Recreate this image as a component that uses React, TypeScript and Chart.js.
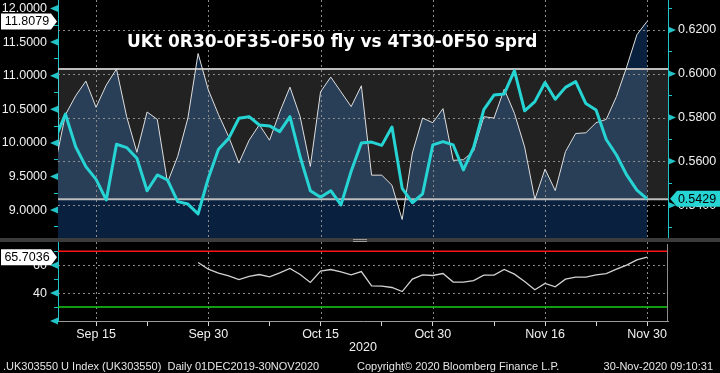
import React, { useEffect, useRef } from 'react';
import { Chart, registerables } from 'chart.js';
Chart.register(...registerables);

// ---------- data ----------
const DATES = ['Sep 9','Sep 10','Sep 11','Sep 14','Sep 15','Sep 16','Sep 17','Sep 18','Sep 21','Sep 22','Sep 23','Sep 24','Sep 25','Sep 28','Sep 29','Sep 30',
  'Oct 1','Oct 2','Oct 5','Oct 6','Oct 7','Oct 8','Oct 9','Oct 12','Oct 13','Oct 14','Oct 15','Oct 16','Oct 19','Oct 20','Oct 21','Oct 22','Oct 23','Oct 26','Oct 27','Oct 28','Oct 29','Oct 30',
  'Nov 2','Nov 3','Nov 4','Nov 5','Nov 6','Nov 9','Nov 10','Nov 11','Nov 12','Nov 13','Nov 16','Nov 17','Nov 18','Nov 19','Nov 20','Nov 23','Nov 24','Nov 25','Nov 26','Nov 27','Nov 30'];

// UKt 0R30-0F35-0F50 fly (left axis)
const FLY = [9.69,10.42,10.70,10.92,10.53,10.86,11.10,10.39,9.86,10.46,10.35,9.41,9.80,10.37,11.33,10.79,10.42,10.09,9.70,10.04,
  10.27,10.04,10.46,10.83,10.39,9.65,10.76,10.98,10.76,10.54,10.85,9.52,9.52,9.37,8.86,9.85,10.37,10.30,10.51,9.74,
  9.75,9.88,10.39,10.37,10.80,10.44,9.94,9.16,9.61,9.29,9.87,10.14,10.15,10.30,10.35,10.69,11.13,11.61,11.8079];

// 4T30-0F50 spread (right axis)
const SPRD = [0.5705,0.5816,0.5667,0.5576,0.5518,0.5424,0.5678,0.5663,0.5614,0.5466,0.5538,0.5515,0.5416,0.5405,0.536,0.5523,0.5655,0.5705,0.5797,0.5804,
  0.5766,0.5762,0.5736,0.5804,0.5621,0.5466,0.5436,0.5466,0.5401,0.5555,0.5684,0.5688,0.5673,0.5757,0.5477,0.5411,0.5452,0.5675,0.569,0.5675,
  0.5561,0.5664,0.5836,0.5903,0.5908,0.6014,0.5831,0.5873,0.596,0.5884,0.5938,0.5964,0.5864,0.5835,0.57,0.5629,0.5538,0.5469,0.5429];

// RSI (lower panel)
const RSI = [null,null,null,null,null,null,null,null,null,null,null,null,null,null,
  61.9,57.1,54.3,52.4,49.7,51.9,53.3,51.6,54.5,57.6,
  53.3,47.6,55.7,56.9,55.2,53.1,55.4,45.2,45.0,44.0,
  41.1,50.0,53.1,52.6,54.0,47.9,47.9,49.0,52.9,52.9,
  56.9,53.6,48.3,42.4,46.9,44.5,50.0,51.4,51.4,53.1,
  54.0,57.1,60.0,63.8,65.7036];

const LABELED_DATES = ['Sep 15','Sep 30','Oct 15','Oct 30','Nov 16','Nov 30'];
const UNLABELED_DATES = ['Sep 22','Oct 8','Oct 23','Nov 9','Nov 23'];
const FLY_RANGE_HIGH = 11.10;
const FLY_RANGE_LOW = 9.16;
const RSI_HIGH = 70;
const RSI_LOW = 30;

const TITLE = 'UKt 0R30-0F35-0F50 fly vs 4T30-0F50 sprd';
const YEAR = '2020';
const FOOTER_LEFT = '.UK303550 U Index (UK303550)  Daily 01DEC2019-30NOV2020';
const FOOTER_MID = 'Copyright\u00A9 2020 Bloomberg Finance L.P.';
const FOOTER_RIGHT = '30-Nov-2020 09:10:31';

// ---------- axis ranges ----------
const X_MIN = 0.27, X_MAX = 60.05;
const FLY_MIN = 8.585, FLY_MAX = 12.1265;
const SPRD_MIN = 0.5250, SPRD_MAX = 0.6337;
const RSI_MIN = 20, RSI_MAX = 76.6;

// ---------- styles ----------
const FONT = '"Liberation Sans", Arial, sans-serif';
const CYAN_LINE = '#27d4d4';
const CYAN_AXIS = '#22c4c8';
const TEXT = '#f0f0f0';
const GRID = '#8a8a8a';
const NAVY = 'rgb(9,33,62)';
const BAND = 'rgba(255,255,255,0.133)';
const BAND_EDGE = '#bdbdbd';

const idx = (d: string) => DATES.indexOf(d);
const LABELED_IDX = LABELED_DATES.map(idx);
const X_TICKS = [...LABELED_DATES, ...UNLABELED_DATES].map(idx).sort((a, b) => a - b);
const toPts = (arr: (number | null)[]) => arr.map((v, i) => ({ x: i, y: v }));
const last = (arr: (number | null)[]) => arr[arr.length - 1] as number;

function hLine(ctx: CanvasRenderingContext2D, x1: number, x2: number, y: number) {
  const yy = Math.round(y) + 0.5;
  ctx.beginPath(); ctx.moveTo(x1, yy); ctx.lineTo(x2, yy); ctx.stroke();
}
function vLine(ctx: CanvasRenderingContext2D, x: number, y1: number, y2: number) {
  const xx = Math.round(x) + 0.5;
  ctx.beginPath(); ctx.moveTo(xx, y1); ctx.lineTo(xx, y2); ctx.stroke();
}

function drawMarkers(chart: any, id: string, side: 'left' | 'right', isMajor: (v: number) => boolean) {
  const s = chart.scales[id];
  const ctx = chart.ctx as CanvasRenderingContext2D;
  ctx.save();
  ctx.fillStyle = CYAN_AXIS;
  s.ticks.forEach((t: any) => {
    if (!isMajor(t.value)) return;
    const y = s.getPixelForValue(t.value);
    ctx.beginPath();
    if (side === 'left') {
      const x0 = s.right;
      ctx.moveTo(x0, y - 3.5); ctx.lineTo(x0, y + 3.5); ctx.lineTo(x0 - 8, y);
    } else {
      const x0 = s.left;
      ctx.moveTo(x0, y - 3.5); ctx.lineTo(x0, y + 3.5); ctx.lineTo(x0 + 8, y);
    }
    ctx.closePath(); ctx.fill();
  });
  ctx.restore();
}

function leftBox(ctx: CanvasRenderingContext2D, text: string, y: number, bg: string) {
  ctx.save();
  ctx.fillStyle = bg;
  ctx.beginPath();
  ctx.moveTo(1, y - 8); ctx.lineTo(51, y - 8); ctx.lineTo(57, y); ctx.lineTo(51, y + 8); ctx.lineTo(1, y + 8);
  ctx.closePath(); ctx.fill();
  ctx.fillStyle = '#000';
  ctx.font = `12.5px ${FONT}`;
  ctx.textAlign = 'center'; ctx.textBaseline = 'middle';
  ctx.fillText(text, 27, y + 0.5);
  ctx.restore();
}
function rightBox(ctx: CanvasRenderingContext2D, text: string, y: number, bg: string, x0: number) {
  ctx.save();
  ctx.fillStyle = bg;
  ctx.beginPath();
  ctx.moveTo(x0 + 2, y); ctx.lineTo(x0 + 9, y - 8); ctx.lineTo(720, y - 8); ctx.lineTo(720, y + 8); ctx.lineTo(x0 + 9, y + 8);
  ctx.closePath(); ctx.fill();
  ctx.fillStyle = '#000';
  ctx.font = `12.5px ${FONT}`;
  ctx.textAlign = 'center'; ctx.textBaseline = 'middle';
  ctx.fillText(text, 697, y + 0.5);
  ctx.restore();
}

const flyMajor = (v: number) => Math.round(v * 4) % 2 === 0;
const sprdMajor = (v: number) => Math.round(v * 100) % 2 === 0;
const rsiMajor = (v: number) => Math.round(v) % 20 === 0;

const topOverlay = {
  id: 'topOverlay',
  beforeDatasetsDraw(chart: any) {
    const ctx = chart.ctx as CanvasRenderingContext2D;
    const ca = chart.chartArea;
    const { x, yL, yR } = chart.scales;
    ctx.save();
    ctx.beginPath(); ctx.rect(ca.left, ca.top, ca.right - ca.left, ca.bottom - ca.top); ctx.clip();
    const yh = yL.getPixelForValue(FLY_RANGE_HIGH);
    const yl = yL.getPixelForValue(FLY_RANGE_LOW);
    ctx.fillStyle = BAND;
    ctx.fillRect(ca.left, yh, ca.right - ca.left, yl - yh);
    ctx.strokeStyle = GRID; ctx.lineWidth = 1; ctx.setLineDash([2, 3]);
    yR.ticks.forEach((t: any) => { if (sprdMajor(t.value)) hLine(ctx, ca.left, ca.right, yR.getPixelForValue(t.value)); });
    LABELED_IDX.forEach((i) => vLine(ctx, x.getPixelForValue(i), ca.top, ca.bottom));
    ctx.setLineDash([]);
    ctx.strokeStyle = BAND_EDGE; ctx.lineWidth = 2;
    ctx.beginPath(); ctx.moveTo(ca.left, yh); ctx.lineTo(ca.right, yh); ctx.stroke();
    ctx.beginPath(); ctx.moveTo(ca.left, yl); ctx.lineTo(ca.right, yl); ctx.stroke();
    ctx.restore();
  },
  afterDraw(chart: any) {
    const ctx = chart.ctx as CanvasRenderingContext2D;
    const { yL, yR } = chart.scales;
    drawMarkers(chart, 'yL', 'left', flyMajor);
    drawMarkers(chart, 'yR', 'right', sprdMajor);
    leftBox(ctx, last(FLY).toFixed(4), yL.getPixelForValue(last(FLY)), '#ffffff');
    rightBox(ctx, last(SPRD).toFixed(4), yR.getPixelForValue(last(SPRD)), CYAN_LINE, yR.left);
    ctx.save();
    ctx.font = 'bold 17px "DejaVu Sans", Verdana, sans-serif';
    ctx.fillStyle = '#ffffff';
    ctx.textAlign = 'left'; ctx.textBaseline = 'middle';
    ctx.fillText(TITLE, 127, 43);
    ctx.restore();
  },
};

const bottomOverlay = {
  id: 'bottomOverlay',
  beforeDatasetsDraw(chart: any) {
    const ctx = chart.ctx as CanvasRenderingContext2D;
    const ca = chart.chartArea;
    const { x, y } = chart.scales;
    ctx.save();
    ctx.strokeStyle = GRID; ctx.lineWidth = 1; ctx.setLineDash([2, 3]);
    y.ticks.forEach((t: any) => { if (rsiMajor(t.value) && t.value > RSI_MIN) hLine(ctx, ca.left, ca.right, y.getPixelForValue(t.value)); });
    LABELED_IDX.forEach((i) => vLine(ctx, x.getPixelForValue(i), ca.top, ca.bottom));
    ctx.setLineDash([]);
    ctx.lineWidth = 1.5;
    ctx.strokeStyle = '#ff1414';
    ctx.beginPath(); ctx.moveTo(ca.left, y.getPixelForValue(RSI_HIGH)); ctx.lineTo(ca.right, y.getPixelForValue(RSI_HIGH)); ctx.stroke();
    ctx.strokeStyle = '#16d016';
    ctx.beginPath(); ctx.moveTo(ca.left, y.getPixelForValue(RSI_LOW)); ctx.lineTo(ca.right, y.getPixelForValue(RSI_LOW)); ctx.stroke();
    ctx.lineWidth = 1; ctx.strokeStyle = '#8c8c8c';
    vLine(ctx, ca.right - 1, ca.top + 2, ca.bottom);
    ctx.restore();
  },
  afterDraw(chart: any) {
    const ctx = chart.ctx as CanvasRenderingContext2D;
    const ca = chart.chartArea;
    const { y } = chart.scales;
    drawMarkers(chart, 'y', 'left', rsiMajor);
    leftBox(ctx, last(RSI).toFixed(4), y.getPixelForValue(last(RSI)), '#ffffff');
    ctx.save();
    ctx.font = `12.5px ${FONT}`;
    ctx.fillStyle = TEXT;
    ctx.textAlign = 'center'; ctx.textBaseline = 'middle';
    ctx.fillText(YEAR, (ca.left + ca.right) / 2, ca.bottom + 27);
    ctx.restore();
  },
};

function fixWidth(w: number) {
  return (s: any) => { s.width = w; s.paddingTop = 0; s.paddingBottom = 0; };
}

export default function App() {
  const topRef = useRef<HTMLCanvasElement>(null);
  const botRef = useRef<HTMLCanvasElement>(null);

  useEffect(() => {
    const top = new Chart(topRef.current as HTMLCanvasElement, {
      type: 'line',
      data: {
        datasets: [
          {
            label: 'fly', data: toPts(FLY) as any, yAxisID: 'yL', xAxisID: 'x',
            borderColor: '#dedede', borderWidth: 1, pointRadius: 0, tension: 0,
            fill: 'start', backgroundColor: NAVY, order: 2, clip: 0 as any,
          },
          {
            label: 'sprd', data: toPts(SPRD) as any, yAxisID: 'yR', xAxisID: 'x',
            borderColor: CYAN_LINE, borderWidth: 3, pointRadius: 0, tension: 0,
            borderJoinStyle: 'round', fill: false, order: 1, clip: 0 as any,
          },
        ],
      },
      options: {
        animation: false, responsive: false, maintainAspectRatio: false, devicePixelRatio: 1,
        layout: { padding: 0 },
        plugins: { legend: { display: false }, tooltip: { enabled: false }, filler: { drawTime: 'beforeDatasetsDraw' } as any },
        scales: {
          x: { type: 'linear', min: X_MIN, max: X_MAX, display: false },
          yL: {
            type: 'linear', position: 'left', min: FLY_MIN, max: FLY_MAX,
            afterFit: fixWidth(58),
            ticks: {
              stepSize: 0.25, includeBounds: false, autoSkip: false, color: TEXT, padding: 7,
              font: { family: FONT, size: 12.5 },
              callback: (v: any) => (flyMajor(Number(v)) ? Number(v).toFixed(4) : ''),
            },
            grid: { drawOnChartArea: false, drawTicks: true, tickLength: 4, color: CYAN_AXIS },
            border: { color: CYAN_AXIS, width: 1 },
          },
          yR: {
            type: 'linear', position: 'right', min: SPRD_MIN, max: SPRD_MAX,
            afterFit: fixWidth(52),
            ticks: {
              stepSize: 0.01, includeBounds: false, autoSkip: false, color: TEXT, padding: 6,
              font: { family: FONT, size: 12.5 },
              callback: (v: any) => (sprdMajor(Number(v)) ? Number(v).toFixed(4) : ''),
            },
            grid: { drawOnChartArea: false, drawTicks: true, tickLength: 4, color: CYAN_AXIS },
            border: { color: CYAN_AXIS, width: 1 },
          },
        },
      } as any,
      plugins: [topOverlay],
    });

    const bot = new Chart(botRef.current as HTMLCanvasElement, {
      type: 'line',
      data: {
        datasets: [
          {
            label: 'RSI', data: toPts(RSI) as any, yAxisID: 'y', xAxisID: 'x',
            borderColor: '#d2d2d2', borderWidth: 1.3, pointRadius: 0, tension: 0, fill: false, clip: 0 as any,
          },
        ],
      },
      options: {
        animation: false, responsive: false, maintainAspectRatio: false, devicePixelRatio: 1,
        layout: { padding: { left: 0, right: 52, top: 0, bottom: 0 } },
        plugins: { legend: { display: false }, tooltip: { enabled: false } },
        scales: {
          x: {
            type: 'linear', min: X_MIN, max: X_MAX,
            afterBuildTicks: (s: any) => { s.ticks = X_TICKS.map((v) => ({ value: v })); },
            afterFit: (s: any) => { s.height = 52; s.paddingLeft = 0; s.paddingRight = 0; },
            ticks: {
              autoSkip: false, maxRotation: 0, minRotation: 0, color: TEXT, padding: 1,
              font: { family: FONT, size: 12.5 },
              callback: (v: any) => (LABELED_IDX.includes(Number(v)) ? DATES[Number(v)] : ''),
            },
            grid: { drawOnChartArea: false, drawTicks: true, tickLength: 5, color: '#d8d8d8' },
            border: { color: '#9a9a9a', width: 1 },
          },
          y: {
            type: 'linear', position: 'left', min: RSI_MIN, max: RSI_MAX,
            afterFit: fixWidth(58),
            ticks: {
              stepSize: 10, includeBounds: false, autoSkip: false, color: TEXT, padding: 7,
              font: { family: FONT, size: 12.5 },
              callback: (v: any) => (rsiMajor(Number(v)) && Number(v) > RSI_MIN ? String(v) : ''),
            },
            grid: { drawOnChartArea: false, drawTicks: true, tickLength: 4, color: CYAN_AXIS },
            border: { color: CYAN_AXIS, width: 1 },
          },
        },
      } as any,
      plugins: [bottomOverlay],
    });

    return () => { top.destroy(); bot.destroy(); };
  }, []);

  const footStyle: React.CSSProperties = {
    position: 'absolute', top: 359, fontFamily: FONT, fontSize: 11, lineHeight: '14px',
    color: '#e6e6e6', whiteSpace: 'pre',
  };

  return (
    <div style={{ position: 'fixed', left: 0, top: 0, width: 720, height: 373, background: '#000', overflow: 'hidden' }}>
      <canvas ref={topRef} width={720} height={238} style={{ position: 'absolute', left: 0, top: 0, width: 720, height: 238 }} />
      <div style={{ position: 'absolute', left: 0, top: 238, width: 720, height: 4, background: '#3c3c3c' }} />
      <div style={{ position: 'absolute', left: 353, top: 239, width: 14, height: 1, background: '#9a9a9a' }} />
      <div style={{ position: 'absolute', left: 353, top: 241, width: 14, height: 1, background: '#9a9a9a' }} />
      <canvas ref={botRef} width={720} height={131} style={{ position: 'absolute', left: 0, top: 242, width: 720, height: 131 }} />
      <div style={{ ...footStyle, left: 3 }}>{FOOTER_LEFT}</div>
      <div style={{ ...footStyle, left: 357 }}>{FOOTER_MID}</div>
      <div style={{ ...footStyle, right: 7, textAlign: 'right' }}>{FOOTER_RIGHT}</div>
    </div>
  );
}
